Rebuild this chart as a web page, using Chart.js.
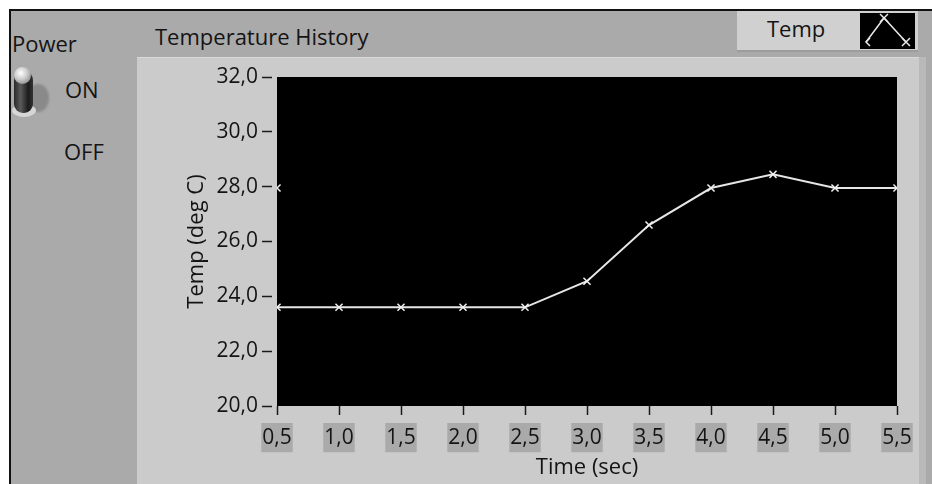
<!DOCTYPE html>
<html>
<head>
<meta charset="utf-8">
<script src="https://cdn.jsdelivr.net/npm/chart.js@4.4.0/dist/chart.umd.min.js"></script>
<style>
  html, body { margin:0; padding:0; background:#ffffff; width:932px; height:484px; overflow:hidden; }
  .abs { position:absolute; }
  #panel { left:9px; top:9px; width:923px; height:475px; background:#aaaaaa; border-left:2px solid #111; border-top:2px solid #111; box-sizing:border-box; }
  #frame { left:137px; top:57px; width:782px; height:427px; background:#cbcbcb; border-top:1px solid #d8d8d8; box-sizing:border-box; }
  #rstrip { left:919px; top:57px; width:7px; height:427px; background:#b9b9b9; }
  #legend { left:737px; top:11px; width:181px; height:41px; background:#d0d0d0; border-bottom:2px solid #9c9c9c; box-sizing:border-box; }
  #swatch { left:860px; top:13px; width:55px; height:36px; background:#000; }
  .txt { position:absolute; font-family:"Open Sans", sans-serif; font-size:22px; line-height:22px; color:#141414; white-space:nowrap; }
  #knobShadow { left:27px; top:84px; width:22px; height:28px; border-radius:50%; background:#8a8a8a; filter:blur(1px); }
  #knobRing { left:12px; top:104px; width:24px; height:13px; border-radius:50%; background:#d6d6d6; }
  #knobBody { left:14px; top:72px; width:19px; height:41px; border-radius:8px 8px 9px 9px; background:linear-gradient(90deg,#2a2a2a 0%,#5a5a5a 35%,#1b1b1b 75%,#333 100%); }
  #knobBall { left:14px; top:67px; width:17px; height:17px; border-radius:50%; background:radial-gradient(circle at 40% 35%,#ffffff 0%,#c8c8c8 45%,#6e6e6e 100%); }
  canvas { position:absolute; left:0; top:0; }
</style>
</head>
<body>
<div id="panel" class="abs"></div>
<div id="frame" class="abs"></div>
<div id="rstrip" class="abs"></div>
<div id="legend" class="abs"></div>
<div id="swatch" class="abs"></div>
<div id="knobShadow" class="abs"></div>
<div id="knobRing" class="abs"></div>
<div id="knobBody" class="abs"></div>
<div id="knobBall" class="abs"></div>
<div class="txt" style="left:12px;top:32px;">Power</div>
<div class="txt" style="left:155px;top:25px;">Temperature History</div>
<div class="txt" style="left:65px;top:78px;">ON</div>
<div class="txt" style="left:64px;top:140px;">OFF</div>
<div class="txt" style="left:767px;top:17px;">Temp</div>
<canvas id="c" width="932" height="484"></canvas>
<script>
// ---- data ----
const timeValues = [0.5, 1.0, 1.5, 2.0, 2.5, 3.0, 3.5, 4.0, 4.5, 5.0, 5.5];
const tempValues = [23.6, 23.6, 23.6, 23.6, 23.6, 24.55, 26.6, 27.95, 28.45, 27.95, 27.95];
const wrapPointTime = [0.5];
const wrapPointTemp = [27.95];
const xTickValues = [0.5, 1.0, 1.5, 2.0, 2.5, 3.0, 3.5, 4.0, 4.5, 5.0, 5.5];
const xTickLabels = ["0,5", "1,0", "1,5", "2,0", "2,5", "3,0", "3,5", "4,0", "4,5", "5,0", "5,5"];
const yTickValues = [20, 22, 24, 26, 28, 30, 32];
const yTickLabels = ["20,0", "22,0", "24,0", "26,0", "28,0", "30,0", "32,0"];

const FONT = { family: '"Open Sans", sans-serif', size: 21 };
const TITLE_FONT = { family: '"Open Sans", sans-serif', size: 22 };
const TXT = '#141414';

const plotBg = {
  id: 'plotBg',
  beforeDraw(chart) {
    const { ctx, chartArea: a } = chart;
    ctx.save();
    ctx.fillStyle = '#000';
    ctx.fillRect(a.left, a.top, a.right - a.left, a.bottom - a.top);
    ctx.restore();
  }
};

const legendSwatch = {
  id: 'legendSwatch',
  afterDraw(chart) {
    const ctx = chart.ctx;
    ctx.save();
    ctx.strokeStyle = '#e8e8e8';
    ctx.lineWidth = 1.5;
    ctx.beginPath();
    ctx.moveTo(866, 42); ctx.lineTo(884, 18); ctx.lineTo(906, 42);
    ctx.stroke();
    const cross = (x, y) => { ctx.beginPath(); ctx.moveTo(x-4,y-4); ctx.lineTo(x+4,y+4); ctx.moveTo(x+4,y-4); ctx.lineTo(x-4,y+4); ctx.stroke(); };
    ctx.beginPath(); ctx.moveTo(870,38); ctx.lineTo(866,42); ctx.lineTo(870,46); ctx.stroke();
    cross(884, 18); cross(906, 42);
    ctx.restore();
  }
};

new Chart(document.getElementById('c'), {
  type: 'line',
  data: {
    datasets: [
      {
        data: timeValues.map((t, i) => ({ x: t, y: tempValues[i] })),
        borderColor: '#e6e6e6',
        borderWidth: 2,
        pointStyle: 'crossRot',
        pointRadius: 5,
        pointBorderColor: '#f0f0f0',
        pointBorderWidth: 1.5,
        tension: 0
      },
      {
        data: wrapPointTime.map((t, i) => ({ x: t, y: wrapPointTemp[i] })),
        showLine: false,
        pointStyle: 'crossRot',
        pointRadius: 5,
        pointBorderColor: '#f0f0f0',
        pointBorderWidth: 1.5
      }
    ]
  },
  options: {
    responsive: false,
    animation: false,
    events: [],
    layout: { padding: { left: 0, right: 35, top: 77, bottom: 0 } },
    plugins: { legend: { display: false }, tooltip: { enabled: false } },
    scales: {
      x: {
        type: 'linear',
        min: 0.5, max: 5.5,
        afterFit(s) { s.height = 78; },
        afterBuildTicks(s) { s.ticks = xTickValues.map(v => ({ value: v })); },
        border: { display: false },
        grid: { drawOnChartArea: false, tickLength: 13, tickColor: '#1a1a1a', tickWidth: 1.5, tickBorderDash: [9, 100] },
        ticks: {
          autoSkip: false, maxRotation: 0,
          callback: (v, i) => xTickLabels[i],
          font: FONT, color: TXT, padding: 6,
          showLabelBackdrop: true, backdropColor: '#aaaaaa',
          backdropPadding: { left: 1, right: 1, top: 2, bottom: 2 }
        },
        title: { display: true, text: 'Time (sec)', font: TITLE_FONT, color: TXT, padding: { top: 0, bottom: 3 } }
      },
      y: {
        type: 'linear',
        min: 20, max: 32,
        afterFit(s) { s.width = 277; },
        afterBuildTicks(s) { s.ticks = yTickValues.map(v => ({ value: v })); },
        border: { display: false },
        grid: { drawOnChartArea: false, tickLength: 15, tickColor: '#1a1a1a', tickWidth: 1.5, tickBorderDash: [10, 100] },
        ticks: { autoSkip: false, callback: (v, i) => yTickLabels[i], font: FONT, color: TXT, padding: 4 },
        title: { display: true, text: 'Temp (deg C)', font: TITLE_FONT, color: TXT, padding: { top: 184, bottom: 0 } }
      }
    }
  },
  plugins: [plotBg, legendSwatch]
});
</script>
</body>
</html>
